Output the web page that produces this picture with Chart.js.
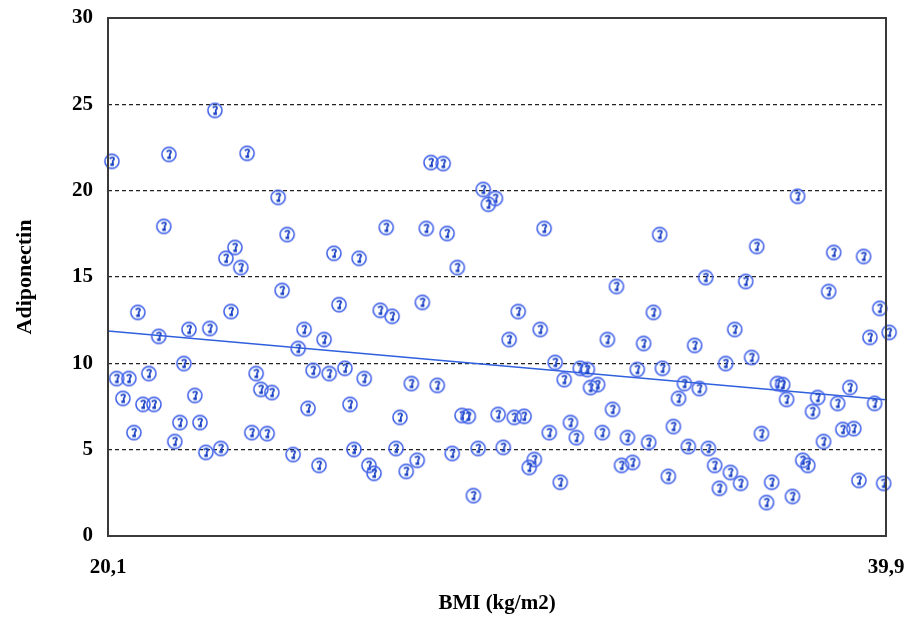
<!DOCTYPE html>
<html>
<head>
<meta charset="utf-8">
<script src="https://cdn.jsdelivr.net/npm/chart.js@4/dist/chart.umd.min.js"></script>
<style>
  html, body { margin: 0; padding: 0; background: #fff; }
  #wrap { width: 908px; height: 617px; }
</style>
</head>
<body>
<div id="wrap"><canvas id="bmiChart" width="908" height="617"></canvas></div>
<script>
// BMI (x) and adiponectin (y) per subject
const bmiValues = [
  20.20, 21.65, 22.82, 23.64, 24.43, 21.52, 24.66, 23.33, 23.10, 23.48,
  25.85, 26.49, 24.53, 25.98, 20.86, 23.23, 28.32, 28.63, 29.65, 29.96,
  29.78, 27.18, 28.20, 28.73, 31.20, 28.99, 33.04, 28.10, 27.03, 27.33,
  30.54, 37.65, 34.14, 36.61, 38.57, 39.33, 35.31, 36.33, 38.44, 33.98,
  39.74, 21.39, 22.16, 22.69, 25.09, 25.60, 24.94, 22.03, 20.32, 20.63,
  21.14, 23.87, 25.32, 25.73, 26.13, 26.62, 20.48, 22.31, 23.99, 24.27,
  20.99, 21.27, 25.19, 26.26, 20.76, 21.93, 22.44, 23.76, 24.15, 21.80,
  22.59, 22.97, 24.81, 25.47, 26.36, 26.74, 26.87, 30.31, 31.10, 32.81,
  31.48, 27.82, 28.48, 31.71, 32.12, 32.30, 32.38, 32.56, 27.53, 29.11,
  29.27, 30.03, 30.44, 30.69, 32.94, 31.87, 31.33, 32.02, 32.68, 33.32,
  27.43, 28.86, 29.52, 30.16, 27.97, 27.69, 30.95, 30.82, 33.17, 31.61,
  29.40, 36.05, 39.98, 33.73, 35.03, 39.49, 35.82, 36.48, 33.57, 34.21,
  34.77, 35.15, 34.62, 37.14, 37.27, 37.37, 38.16, 38.03, 38.98, 38.67,
  39.61, 34.49, 36.73, 38.80, 39.08, 38.31, 33.86, 34.87, 35.38, 33.45,
  37.78, 37.91, 35.54, 35.94, 34.36, 36.20, 36.99, 39.21, 39.84, 35.66,
  37.52, 36.86
];
const adiponectinValues = [
  21.70, 22.10, 24.65, 22.16, 19.61, 17.93, 17.46, 16.71, 16.08, 15.55,
  16.37, 16.08, 14.22, 13.40, 12.95, 13.00, 21.63, 21.57, 20.07, 19.55,
  19.21, 17.87, 17.81, 17.52, 17.81, 15.55, 14.45, 13.53, 13.07, 12.72,
  13.00, 19.67, 17.46, 16.77, 16.42, 16.19, 14.97, 14.74, 14.16, 12.95,
  13.18, 11.56, 11.96, 12.02, 11.96, 11.38, 10.86, 9.99, 9.12, 9.12,
  9.41, 9.41, 9.59, 9.41, 9.71, 9.12, 7.97, 8.14, 8.49, 8.31,
  7.62, 7.62, 7.39, 7.62, 5.99, 6.57, 6.57, 5.99, 5.93, 5.47,
  4.84, 5.07, 4.72, 4.09, 5.01, 4.09, 3.63, 11.38, 11.96, 11.38,
  10.05, 8.83, 8.72, 9.06, 9.71, 9.64, 8.60, 8.77, 6.87, 6.98,
  6.93, 7.04, 6.87, 6.93, 7.33, 6.57, 5.99, 5.70, 5.99, 5.70,
  5.07, 4.78, 5.07, 5.13, 4.38, 3.74, 4.43, 3.97, 4.09, 3.11,
  2.34, 11.96, 11.79, 11.15, 11.04, 11.50, 9.99, 10.34, 9.64, 9.71,
  8.83, 8.54, 7.97, 8.83, 8.77, 7.91, 8.02, 7.21, 8.60, 7.68,
  7.68, 6.34, 5.93, 6.17, 6.22, 5.47, 5.42, 5.18, 5.07, 4.26,
  4.38, 4.09, 4.09, 3.68, 3.45, 3.05, 3.11, 3.22, 3.05, 2.76,
  2.29, 1.94
];

// regression line end points
const trendX = [20.1, 39.9];
const trendY = [11.87, 7.89];

const xTickValues = [20.1, 39.9];
const xTickLabels = ['20,1', '39,9'];
const yTickValues = [0, 5, 10, 15, 20, 25, 30];

const fontFamily = '"Liberation Serif", "Times New Roman", serif';

// the circled glyph marker used by the original software
function makeMarker() {
  const c = document.createElement('canvas');
  c.width = 18;
  c.height = 18;
  const g = c.getContext('2d');
  g.beginPath();
  g.arc(9, 9, 7.6, 0, Math.PI * 2);
  g.strokeStyle = 'rgba(200, 130, 220, 0.45)';
  g.lineWidth = 1;
  g.stroke();
  g.beginPath();
  g.arc(9, 9, 7, 0, Math.PI * 2);
  g.strokeStyle = '#3460ea';
  g.lineWidth = 1.4;
  g.stroke();
  g.beginPath();
  g.moveTo(6.8, 6.4);
  g.quadraticCurveTo(8.4, 4.4, 10.6, 5.4);
  g.quadraticCurveTo(11.8, 7.0, 9.8, 8.6);
  g.lineTo(9.8, 12.2);
  g.strokeStyle = '#1e44c4';
  g.lineWidth = 1.8;
  g.stroke();
  g.fillStyle = '#1e44c4';
  g.fillRect(7.4, 11.0, 3.6, 2.6);
  return c;
}

const frame = {
  id: 'frame',
  afterDraw(chart) {
    const a = chart.chartArea;
    const ctx = chart.ctx;
    ctx.save();
    ctx.strokeStyle = '#3a3a3a';
    ctx.lineWidth = 2;
    ctx.strokeRect(a.left, a.top, a.right - a.left, a.bottom - a.top);
    ctx.restore();
  }
};

const points = bmiValues.map((x, i) => ({ x: x, y: adiponectinValues[i] }));
const trend = trendX.map((x, i) => ({ x: x, y: trendY[i] }));

new Chart(document.getElementById('bmiChart'), {
  type: 'scatter',
  data: {
    datasets: [{
      label: 'Adiponectin',
      data: points,
      pointStyle: makeMarker(),
      pointRadius: 8,
      clip: false,
      order: 1
    }, {
      label: 'trend',
      data: trend,
      showLine: true,
      borderColor: '#2e5fdc',
      borderWidth: 1.5,
      pointRadius: 0,
      order: 2
    }]
  },
  options: {
    responsive: false,
    animation: false,
    devicePixelRatio: 1,
    layout: {
      padding: { left: 0, right: 22, top: 18, bottom: 0 }
    },
    plugins: {
      legend: { display: false },
      tooltip: { enabled: false }
    },
    scales: {
      x: {
        type: 'linear',
        min: 20.1,
        max: 39.9,
        afterBuildTicks: function(scale) {
          scale.ticks = xTickValues.map((v) => ({ value: v }));
        },
        afterFit: function(scale) {
          scale.height = 81;
          scale.paddingLeft = 0;
          scale.paddingRight = 0;
        },
        grid: { display: false, drawTicks: false },
        border: { display: false },
        ticks: {
          padding: 19,
          color: '#000',
          autoSkip: false,
          maxRotation: 0,
          callback: function(value) {
            const i = xTickValues.indexOf(value);
            return i >= 0 ? xTickLabels[i] : '';
          },
          font: { family: fontFamily, size: 21, weight: 'bold' }
        },
        title: {
          display: true,
          text: 'BMI (kg/m2)',
          color: '#000',
          padding: { top: 0, bottom: 1 },
          font: { family: fontFamily, size: 21, weight: 'bold' }
        }
      },
      y: {
        min: 0,
        max: 30,
        afterBuildTicks: function(scale) {
          scale.ticks = yTickValues.map((v) => ({ value: v }));
        },
        afterFit: function(scale) {
          scale.width = 108;
          scale.paddingTop = 0;
          scale.paddingBottom = 0;
        },
        grid: {
          drawTicks: false,
          lineWidth: 1.3,
          color: function(ctx) {
            const v = ctx.tick ? ctx.tick.value : null;
            return (v === 0 || v === 30) ? 'rgba(0,0,0,0)' : '#222';
          }
        },
        border: { display: false, dash: [4, 3] },
        ticks: {
          padding: 15,
          color: '#000',
          font: { family: fontFamily, size: 21, weight: 'bold' }
        },
        title: {
          display: true,
          text: 'Adiponectin',
          color: '#000',
          padding: { top: 12, bottom: 0 },
          font: { family: fontFamily, size: 22, weight: 'bold' }
        }
      }
    }
  },
  plugins: [frame]
});
</script>
</body>
</html>
